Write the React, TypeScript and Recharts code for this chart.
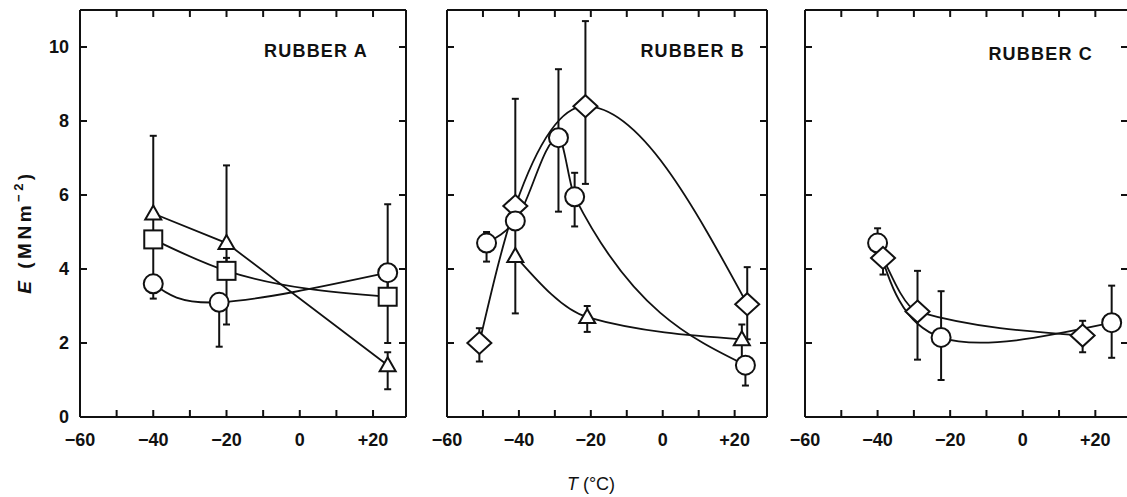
import { LineChart, Line, XAxis, YAxis, ErrorBar } from "recharts";

// shared axis ticks
const xTicks = [-60, -50, -40, -30, -20, -10, 0, 10, 20];
const yTicks = [0, 2, 4, 6, 8, 10];

// Rubber A
const aTriT = [-40, -20, 24];
const aTriE = [5.5, 4.7, 1.4];
const aTriHi = [7.6, 6.8, 1.75];
const aTriLo = [4.8, 2.5, 0.75];

const aSqT = [-40, -20, 24];
const aSqE = [4.8, 3.95, 3.25];
const aSqHi = [4.8, 4.3, 3.85];
const aSqLo = [4.8, 3.95, 2.0];

const aCirT = [-40, -22, 24];
const aCirE = [3.6, 3.1, 3.9];
const aCirHi = [4.8, 3.1, 5.75];
const aCirLo = [3.2, 1.9, 3.25];

// Rubber B
const bDiaT = [-51, -41, -21.5, 23.5];
const bDiaE = [2.0, 5.7, 8.4, 3.05];
const bDiaHi = [2.4, 8.6, 10.7, 4.05];
const bDiaLo = [1.5, 5.7, 6.3, 2.1];

const bCirT = [-49, -41, -29, -24.5, 23];
const bCirE = [4.7, 5.3, 7.55, 5.95, 1.4];
const bCirHi = [5.0, 5.3, 9.4, 6.6, 1.4];
const bCirLo = [4.2, 5.3, 5.55, 5.15, 0.85];

const bTriT = [-41, -21, 22];
const bTriE = [4.35, 2.7, 2.1];
const bTriHi = [5.3, 3.0, 2.5];
const bTriLo = [2.8, 2.3, 1.4];

// Rubber C
const cCirT = [-40, -22.5, 24.5];
const cCirE = [4.7, 2.15, 2.55];
const cCirHi = [5.1, 3.4, 3.55];
const cCirLo = [4.3, 1.0, 1.6];

const cDiaT = [-38.5, -29, 16.5];
const cDiaE = [4.3, 2.85, 2.2];
const cDiaHi = [4.3, 3.95, 2.6];
const cDiaLo = [3.85, 1.55, 1.75];

const rows = (t: number[], e: number[], hi: number[], lo: number[]) =>
  t.map((x, i) => ({ t: x, e: e[i], err: [e[i] - lo[i], hi[i] - e[i]] }));

const FONT = "'Liberation Sans', Arial, sans-serif";
const INK = "#111";

const fmtX = (v: number) => {
  if (v % 20 !== 0) return "";
  if (v < 0) return `\u2212${-v}`;
  if (v > 0) return `+${v}`;
  return "0";
};
const noLabel = () => "";

const circleDot = (p: any) => (
  <circle key={`c${p.index}`} cx={p.cx} cy={p.cy} r={9.5} fill="#fff" stroke={INK} strokeWidth={2} />
);
const squareDot = (p: any) => (
  <rect key={`s${p.index}`} x={p.cx - 9} y={p.cy - 9} width={18} height={18} fill="#fff" stroke={INK} strokeWidth={2} />
);
const triangleDot = (p: any) => (
  <polygon
    key={`t${p.index}`}
    points={`${p.cx},${p.cy - 8} ${p.cx + 8},${p.cy + 6} ${p.cx - 8},${p.cy + 6}`}
    fill="#fff"
    stroke={INK}
    strokeWidth={2}
  />
);
const diamondDot = (p: any) => (
  <polygon
    key={`d${p.index}`}
    points={`${p.cx},${p.cy - 11} ${p.cx + 12},${p.cy} ${p.cx},${p.cy + 11} ${p.cx - 12},${p.cy}`}
    fill="#fff"
    stroke={INK}
    strokeWidth={2}
  />
);

type Series = {
  data: { t: number; e: number; err: number[] }[];
  dot: (p: any) => any;
  curve: "monotone" | "linear" | "natural";
};

const PLOT_TOP = 10;
const PLOT_BOTTOM = 417;
const H = 497;

const Panel = ({
  left,
  plotL,
  plotR,
  series,
  yLabels,
}: {
  left: number;
  plotL: number;
  plotR: number;
  series: Series[];
  yLabels: boolean;
}) => {
  const width = plotR - left + 4;
  const tickStyle = { fill: INK, fontSize: 18, fontWeight: "bold" as const, fontFamily: FONT };
  const axisStroke = { stroke: INK, strokeWidth: 2 };
  // axes take 1px each (a 0px axis is not drawn), so margins are 1px smaller
  return (
    <div style={{ position: "absolute", left, top: 0 }}>
      <LineChart
        width={width}
        height={H}
        margin={{ top: PLOT_TOP - 1, bottom: H - PLOT_BOTTOM - 1, left: plotL - left - 1, right: 3 }}
      >
        <XAxis
          xAxisId="b"
          type="number"
          dataKey="t"
          domain={[-60, 29]}
          allowDataOverflow
          ticks={xTicks}
          interval={0}
          orientation="bottom"
          height={1}
          tickSize={-7}
          tickMargin={23}
          tickFormatter={fmtX}
          tick={tickStyle}
          axisLine={axisStroke}
          tickLine={axisStroke}
        />
        <XAxis
          xAxisId="t"
          type="number"
          dataKey="t"
          domain={[-60, 29]}
          allowDataOverflow
          ticks={xTicks}
          interval={0}
          orientation="top"
          height={1}
          tickSize={-7}
          tickFormatter={noLabel}
          axisLine={axisStroke}
          tickLine={axisStroke}
        />
        <YAxis
          yAxisId="l"
          type="number"
          domain={[0, 11]}
          allowDataOverflow
          ticks={yTicks}
          interval={0}
          orientation="left"
          width={1}
          tickSize={-7}
          tickMargin={18}
          tick={tickStyle}
          tickFormatter={yLabels ? undefined : noLabel}
          axisLine={axisStroke}
          tickLine={axisStroke}
        />
        <YAxis
          yAxisId="r"
          type="number"
          domain={[0, 11]}
          allowDataOverflow
          ticks={yTicks}
          interval={0}
          orientation="right"
          width={1}
          tickSize={-7}
          tickFormatter={noLabel}
          axisLine={axisStroke}
          tickLine={axisStroke}
        />
        {series.map((s, i) => (
          <Line
            key={i}
            xAxisId="b"
            yAxisId="l"
            data={s.data}
            dataKey="e"
            type={s.curve}
            stroke={INK}
            strokeWidth={1.8}
            dot={s.dot}
            activeDot={false}
            isAnimationActive={false}
          >
            <ErrorBar dataKey="err" direction="y" width={3.5} stroke={INK} strokeWidth={2} />
          </Line>
        ))}
      </LineChart>
    </div>
  );
};

const panelA: Series[] = [
  { data: rows(aTriT, aTriE, aTriHi, aTriLo), dot: triangleDot, curve: "linear" },
  { data: rows(aSqT, aSqE, aSqHi, aSqLo), dot: squareDot, curve: "monotone" },
  { data: rows(aCirT, aCirE, aCirHi, aCirLo), dot: circleDot, curve: "natural" },
];

const panelB: Series[] = [
  { data: rows(bDiaT, bDiaE, bDiaHi, bDiaLo), dot: diamondDot, curve: "monotone" },
  { data: rows(bTriT, bTriE, bTriHi, bTriLo), dot: triangleDot, curve: "monotone" },
  { data: rows(bCirT, bCirE, bCirHi, bCirLo), dot: circleDot, curve: "monotone" },
];

const panelC: Series[] = [
  { data: rows(cCirT, cCirE, cCirHi, cCirLo), dot: circleDot, curve: "natural" },
  { data: rows(cDiaT, cDiaE, cDiaHi, cDiaLo), dot: diamondDot, curve: "monotone" },
];

export default function App() {
  return (
    <div
      style={{
        position: "absolute",
        left: 0,
        top: 0,
        width: 1127,
        height: 497,
        background: "#fff",
        overflow: "hidden",
        fontFamily: FONT,
      }}
    >
      <Panel left={0} plotL={80} plotR={406} series={panelA} yLabels />
      <Panel left={425} plotL={447} plotR={767} series={panelB} yLabels={false} />
      <Panel left={785} plotL={805} plotR={1128} series={panelC} yLabels={false} />
      <svg
        width={1127}
        height={497}
        style={{ position: "absolute", left: 0, top: 0, pointerEvents: "none" }}
      >
        <g fontFamily={FONT} fill={INK} fontWeight="bold" fontSize={18} letterSpacing={1.2}>
          <text x={368} y={57} textAnchor="end">RUBBER A</text>
          <text x={745} y={57} textAnchor="end">RUBBER B</text>
          <text x={1093} y={60} textAnchor="end">RUBBER C</text>
        </g>
        <text
          x={31}
          y={232}
          transform="rotate(-90 31 232)"
          textAnchor="middle"
          fontFamily={FONT}
          fontSize={19}
          fontWeight="bold"
          letterSpacing={3.5}
          fill={INK}
        >
          <tspan fontStyle="italic">E</tspan> (MNm
          <tspan dy={-8} fontSize={13}>{"\u22122"}</tspan>
          <tspan dy={8}>)</tspan>
        </text>
        <text x={591} y={490} textAnchor="middle" fontFamily={FONT} fontSize={18} fill={INK}>
          <tspan fontStyle="italic">T</tspan> (°C)
        </text>
      </svg>
    </div>
  );
}
